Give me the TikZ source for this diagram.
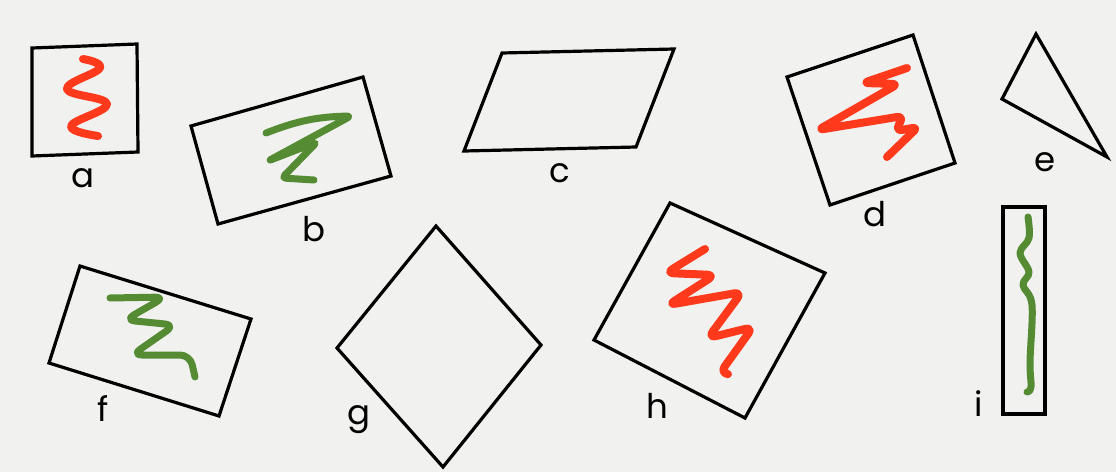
\documentclass[tikz,border=0pt]{standalone}
\usepackage{fontspec}
\setmainfont{Poppins}
\usetikzlibrary{positioning}
\definecolor{paper}{HTML}{F1F1EF}
\definecolor{scred}{HTML}{FF3A1C}
\definecolor{scgreen}{HTML}{548B33}

\begin{document}
\begin{tikzpicture}[x=1pt, y=-1pt,
  outline/.style={draw=black, line width=3.2pt, line join=miter},
  redline/.style={draw=scred, line width=8pt, line cap=round, line join=round},
  greenline/.style={draw=scgreen, line width=7pt, line cap=round, line join=round},
  tag/.style={font=\fontsize{34}{34}\selectfont, text=black, inner sep=0pt, anchor=base},
]

  %% paper
  \fill[paper] (0,0) rectangle (1116,472);
  \useasboundingbox (0,0) rectangle (1116,472);

  %% a: square with red wave
  \draw[outline] (32,48) -- (137,44) -- (138,152) -- (32,156) -- cycle;
  \draw[redline] plot[smooth, tension=0.7] coordinates
    {(83,59) (100,68) (67,89) (107,104) (71,126) (98,136)};
  \node[tag] (lbl-a) at (83,187) {a};

  %% b: tilted rectangle with green scribble
  \draw[outline] (191,126) -- (363,77) -- (391,176) -- (218,224) -- cycle;
  \draw[greenline, rounded corners=4pt] (266,133) to[bend left=10] (351,116)
    -- (268,161) -- (317,142) -- (282,178) -- (314,180);
  \node[tag] (lbl-b) at (314,241) {b};

  %% c: parallelogram
  \draw[outline] (502,53) -- (674,49) -- (636,147) -- (464,151) -- cycle;
  \node[tag] (lbl-c) at (560,182) {c};

  %% d: rotated square with red scribble
  \draw[outline] (787,77) -- (913,35) -- (955,163) -- (830,205) -- cycle;
  \draw[redline, rounded corners=6pt] (907,68) -- (863,83) -- (898,84)
    -- (818,130) -- (903,116) -- (896,131) -- (918,127) -- (887,157);
  \node[tag] (lbl-d) at (875,226) {d};

  %% e: triangle
  \draw[outline] (1036,34) -- (1107,157) -- (1002,99) -- cycle;
  \node[tag] (lbl-e) at (1045,171) {e};

  %% f: tilted rectangle with green zigzag
  \draw[outline] (80,266) -- (251,319) -- (219,416) -- (49,363) -- cycle;
  \draw[greenline, rounded corners=10pt] (110,298) -- (165,297) -- (125,320)
    -- (175,325) -- (132,355) -- (190,355) -- (195,377);
  \node[tag] (lbl-f) at (103,421) {f};

  %% g: rhombus
  \draw[outline] (436,226) -- (541,345) -- (443,467) -- (337,348) -- cycle;
  \node[tag] (lbl-g) at (359,424) {g};

  %% h: big rotated square with red zigzag
  \draw[outline] (670,203) -- (825,273) -- (745,418) -- (594,340) -- cycle;
  \draw[redline, rounded corners=8pt] (705,249) -- (666,273) -- (715,275)
    -- (668,305) -- (742,292) -- (708,338) -- (753,327) -- (720,373) -- (727,374);
  \node[tag] (lbl-h) at (657,418) {h};

  %% i: thin upright rectangle with green line
  \draw[outline] (1003,207) rectangle (1045,414);
  \draw[greenline] plot[smooth, tension=0.6] coordinates
    {(1028,217) (1029,238) (1020,253) (1029,272) (1023,285) (1032,305)
     (1030,362) (1031,387) (1027,392)};
  \node[tag] (lbl-i) at (979,416) {i};

\end{tikzpicture}
\end{document}
